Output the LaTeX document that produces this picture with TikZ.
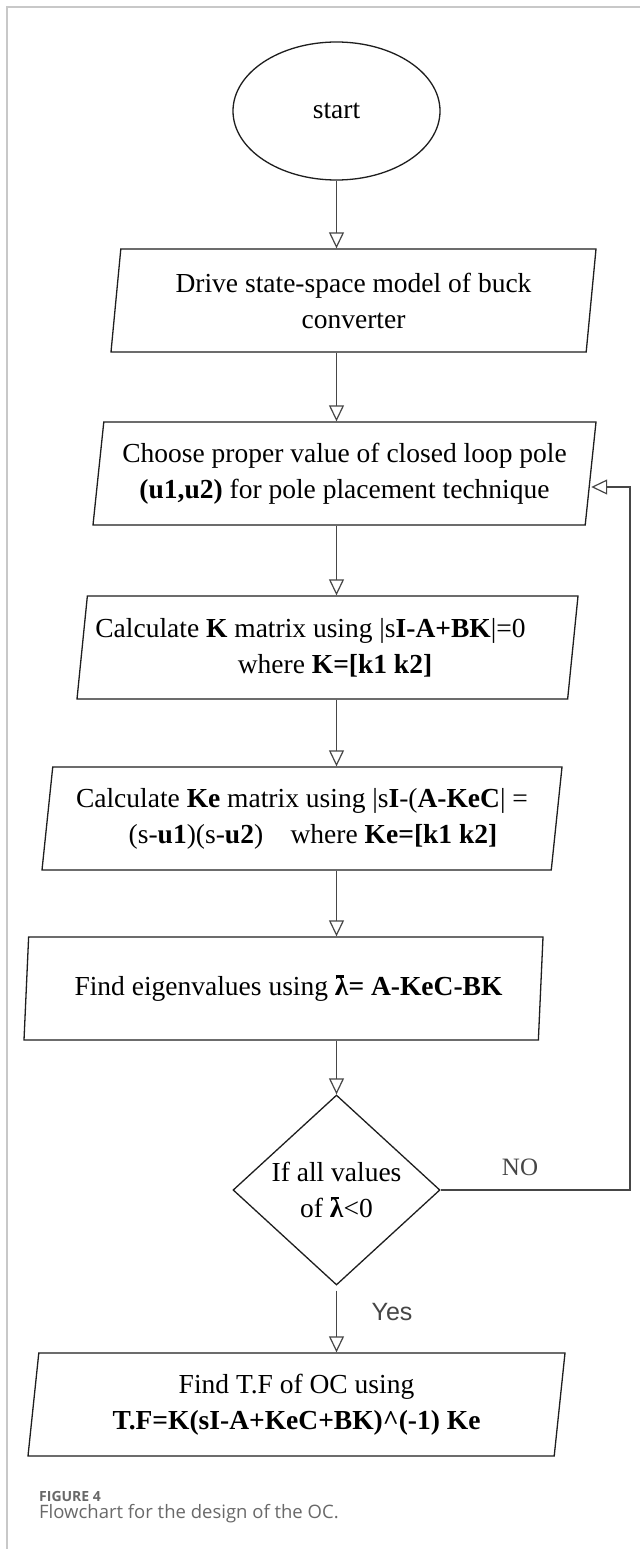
\documentclass[tikz,border=0pt]{standalone}
\usepackage{fontspec}
\setmainfont{Liberation Serif}
\newfontfamily\yesfont{Liberation Sans}
\newfontfamily\capfont{Open Sans}
\usetikzlibrary{arrows.meta, positioning, shapes.geometric}
\definecolor{cline}{RGB}{30,30,30}
\definecolor{carrow}{RGB}{70,70,70}
\definecolor{cframe}{RGB}{200,200,200}
\definecolor{ccap}{RGB}{105,105,105}
\newcommand{\barlam}{\textbf{\makebox[0pt][l]{\hspace{0.02em}\rule[0.66em]{0.32em}{0.08em}}λ}}

\begin{document}
\begin{tikzpicture}[x=1pt, y=-1pt,
    >={Triangle[open, length=16pt, width=15pt]},
    flow/.style={draw=cline, line width=1.3pt, font=\fontsize{27.5}{36}\selectfont, align=center, inner sep=0pt},
    iobox/.style={flow, trapezium, trapezium left angle=80, trapezium right angle=100, trapezium stretches body, minimum height=103pt},
    arr/.style={->, draw=carrow, line width=1.2pt},
    lbl/.style={text=carrow, font=\fontsize{25}{30}\selectfont, inner sep=0pt},
    caption/.style={text=ccap, inner sep=0pt, anchor=west},
]
    \fill[white] (0,0) rectangle (640,1549);
    \useasboundingbox (0,0) rectangle (640,1549);
    \draw[cframe, line width=1.5pt] (7,1549) -- (7,7) -- (640,7);

    \node[flow, ellipse, minimum width=207pt, minimum height=138pt] (start) at (336.5,111) {start};
    \node[iobox, minimum width=485pt] (drive) at (353.5,300.5) {Drive state-space model of buck\\converter};
    \node[iobox, minimum width=503pt] (choose) at (344.5,473.5) {Choose proper value of closed loop pole\\\textbf{(u1,u2)} for pole placement technique};
    \node[iobox, minimum width=501pt] (calck) at (327.5,647.5) {Calculate \textbf{K} matrix using |s\textbf{I-A+BK}|=0\hspace*{34pt}\null\\\hspace*{15pt}where \textbf{K=[k1 k2]}};
    \node[iobox, minimum width=520pt] (calcke) at (302,818.5) {Calculate \textbf{Ke} matrix using |s\textbf{I}-(\textbf{A-KeC}| =\\\hspace*{22pt}(s-\textbf{u1})(s-\textbf{u2})\quad where \textbf{Ke=[k1 k2]}};
    \node[iobox, minimum width=519pt] (eig) at (283.5,988.5) {\hspace*{10pt}Find eigenvalues using \barlam\textbf{= A-KeC-BK}};
    \node[flow, diamond, minimum width=207pt, minimum height=190pt] (check) at (336.5,1190) {If all values\\of \barlam<0};
    \node[iobox, minimum width=537pt] (tf) at (296.5,1404.5) {Find T.F of OC using\\\textbf{T.F=K(sI-A+KeC+BK)\^{}(-1) Ke}};

    \draw[arr] (start) -- (start |- drive.north);
    \draw[arr] (drive.south -| start) -- (start |- choose.north);
    \draw[arr] (choose.south -| start) -- (start |- calck.north);
    \draw[arr] (calck.south -| start) -- (start |- calcke.north);
    \draw[arr] (calcke.south -| start) -- (start |- eig.north);
    \draw[arr] (eig.south -| start) -- (check.north);
    \draw[arr] ([yshift=-5pt]check.south) -- (check.south |- tf.north);
    \coordinate (loop) at (630,487);
    \draw[arr] (check.east) -| (loop) -- (choose.east |- loop);

    \node[lbl] (no) at (520,1167) {NO};
    \node[lbl, font=\yesfont\fontsize{25}{30}\selectfont] (yes) at (392,1312) {Yes};

    \node[caption, font=\capfont\bfseries\fontsize{14}{17}\selectfont] (fignum) at (39,1496) {FIGURE 4};
    \node[caption, font=\capfont\fontsize{18.5}{22}\selectfont, below right=3pt and 0pt of fignum.south west] (figcap) {Flowchart for the design of the OC.};
\end{tikzpicture}
\end{document}
